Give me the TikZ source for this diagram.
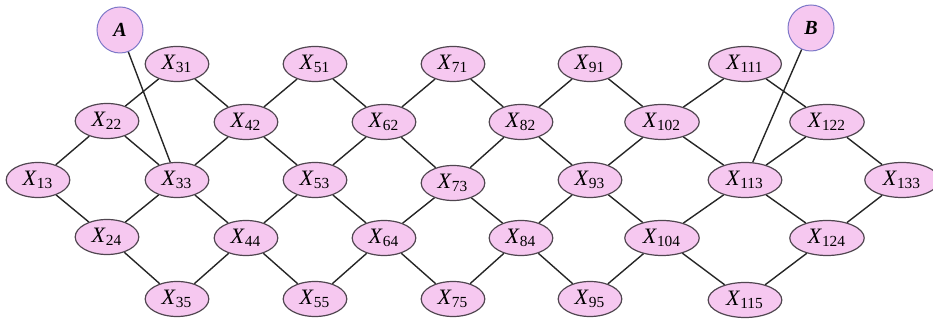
\documentclass[tikz,border=0pt]{standalone}
\usepackage{fontspec}
\setmainfont{Liberation Serif}
\usetikzlibrary{shapes.geometric}
\definecolor{nodepink}{RGB}{246,200,240}
\definecolor{nodeline}{RGB}{80,70,80}
\definecolor{endline}{RGB}{125,120,200}
\tikzset{
  var/.style={ellipse, draw=nodeline, fill=nodepink, line width=0.6pt, inner xsep=3.6pt, inner ysep=1pt, minimum height=17.5pt},
  term/.style={circle, draw=endline, fill=nodepink, line width=0.5pt, minimum size=23pt, inner sep=0pt, font=\bfseries\itshape},
  link/.style={draw=black!85, line width=0.7pt}
}

\begin{document}
\begin{tikzpicture}[x=0.5pt, y=-0.5pt, font=\fontsize{11}{13}\selectfont]
\useasboundingbox (0,0) rectangle (933,324);
\foreach \n/\x/\y in {13/38/180, 22/107/121, 24/107/237, 31/177/64, 33/177/180, 35/177/299,
  42/246/122, 44/246/238, 51/315/64, 53/315/180, 55/315/299, 62/384/122, 64/384/238,
  71/453/64, 73/453/183, 75/453/299, 82/521/122, 84/521/238, 91/590/64, 93/590/180, 95/590/299,
  102/662/122, 104/662/238, 111/745/64, 113/745/180, 115/745/300, 122/827/122, 124/827/238, 133/902/180}
  \node[var] (X\n) at (\x,\y) {\textit{X}\textsubscript{\n}};
\node[term] (A) at (120,30) {A};
\node[term] (B) at (811,28) {B};

\foreach \a/\b in {13/22, 13/24, 22/31, 22/33, 24/33, 24/35, 31/42, 33/42, 33/44, 35/44,
  42/51, 42/53, 44/53, 44/55, 51/62, 53/62, 53/64, 55/64, 62/71, 62/73, 64/73, 64/75,
  71/82, 73/82, 73/84, 75/84, 82/91, 82/93, 84/93, 84/95, 91/102, 93/102, 93/104, 95/104,
  102/111, 102/113, 104/113, 104/115, 111/122, 113/122, 113/124, 115/124, 122/133, 124/133}
  \draw[link] (X\a) -- (X\b);
\draw[link] (A) -- (X33);
\draw[link] (B) -- (X113);
\end{tikzpicture}
\end{document}
